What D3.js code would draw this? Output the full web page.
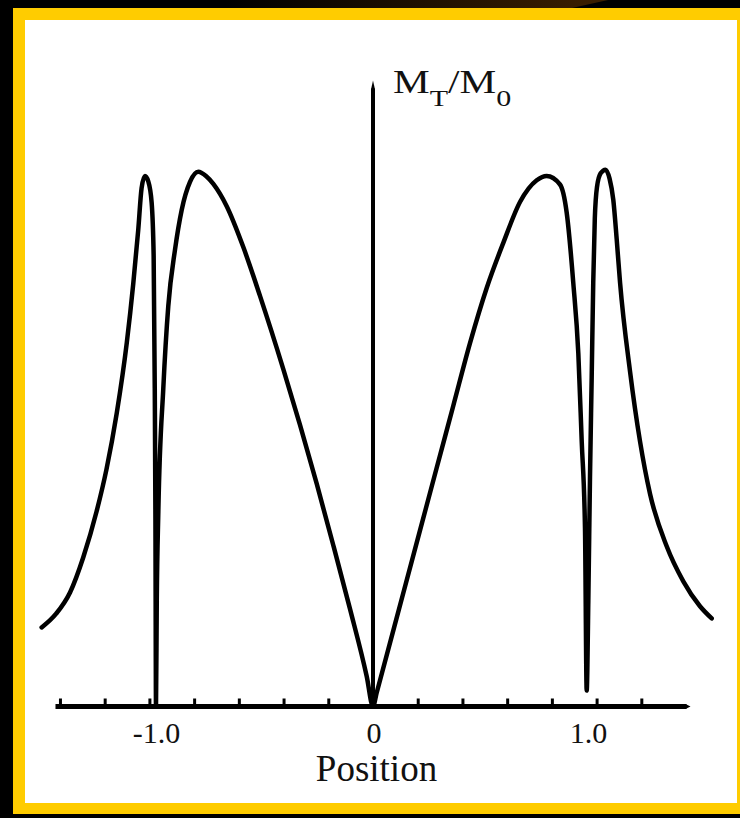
<!DOCTYPE html>
<html>
<head>
<meta charset="utf-8">
<script src="https://cdn.jsdelivr.net/npm/d3@7"></script>
<style>
  html, body { margin: 0; padding: 0; background: #000; }
  svg { display: block; }
  text { font-family: "Liberation Serif", "Times New Roman", serif; fill: #111; }
</style>
</head>
<body>
<svg id="chart" width="740" height="818"></svg>
<script>
// Transverse magnetisation profile |M_T/M_0| across the slice position
const position = [
  -1.482, -1.417, -1.355, -1.296, -1.236, -1.192, -1.146, -1.101, -1.072, -1.050,
  -1.035, -1.020, -1.005, -0.990, -0.981, -0.976, -0.973, -0.9705,
  -0.967, -0.960, -0.9378, -0.9155, -0.8855, -0.8556, -0.8184, -0.7813, -0.7469, -0.7142,
  -0.6543, -0.5801, -0.5054, -0.4012, -0.3265, -0.2518, -0.1776, -0.1029, -0.0282, 0,
  0.0165, 0.1355, 0.2102, 0.2849, 0.3591, 0.4338, 0.5085, 0.5828, 0.6574, 0.7321,
  0.7768, 0.8363, 0.8662, 0.8958, 0.9182, 0.9334, 0.9481, 0.9557,
  0.963, 0.9705, 0.978, 0.985, 0.992, 1.002, 1.018, 1.040, 1.058, 1.0747, 1.090,
  1.1047, 1.1494, 1.1941, 1.2388, 1.3135, 1.3878, 1.4624, 1.5148
];
const magnetization = [
  0.149, 0.175, 0.215, 0.281, 0.368, 0.447, 0.553, 0.686, 0.798, 0.898,
  0.977, 1.000, 0.990, 0.950, 0.850, 0.600, 0.350, 0.000,
  0.200, 0.368, 0.600, 0.755, 0.861, 0.936, 0.989, 1.008, 1.000, 0.985,
  0.943, 0.866, 0.774, 0.636, 0.531, 0.420, 0.304, 0.184, 0.057, 0.000,
  0.026, 0.214, 0.332, 0.450, 0.567, 0.685, 0.789, 0.874, 0.951, 0.992,
  1.000, 0.984, 0.931, 0.798, 0.666, 0.500, 0.336, 0.030,
  0.200, 0.434, 0.620, 0.800, 0.920, 0.980, 1.005, 1.012, 0.995, 0.955, 0.880,
  0.800, 0.632, 0.500, 0.401, 0.302, 0.236, 0.189, 0.166
];

// Axis definitions
const axisExtent = [-1.42, 1.42];   // horizontal axis line
const yAxisTop = 1.18;              // top of the vertical axis
const tickValues = [-1.4, -1.2, -1.0, -0.8, -0.6, -0.4, -0.2, 0.2, 0.4, 0.6, 0.8, 1.0, 1.2];
const tickLabels = [
  { value: -1.0, text: "-1.0", dx: 7 },
  { value: 0,    text: "0",    dx: 1 },
  { value: 1.0,  text: "1.0",  dx: -8 }
];
const xTitle = "Position";

const svg = d3.select("#chart");

// Frame: black page, faint glow at the top, yellow border, white panel
const defs = svg.append("defs");
const glow = defs.append("linearGradient").attr("id", "glow")
  .attr("x1", "0").attr("x2", "1").attr("y1", "0").attr("y2", "0");
glow.append("stop").attr("offset", "0").attr("stop-color", "#000");
glow.append("stop").attr("offset", "1").attr("stop-color", "#3d2000");
svg.append("rect").attr("width", 740).attr("height", 818).attr("fill", "#000");
svg.append("polygon").attr("points", "226,0 608,0 572,8 226,8").attr("fill", "url(#glow)");
svg.append("rect").attr("x", 13).attr("y", 8).attr("width", 727).attr("height", 806).attr("fill", "#ffcc00");
svg.append("rect").attr("x", 25).attr("y", 20).attr("width", 712).attr("height", 783).attr("fill", "#fff");

// Scales
const x = d3.scaleLinear().domain([-1.5, 1.5]).range([37.6, 708.4]);
const y = d3.scaleLinear().domain([0, 1]).range([706.5, 176]);

// Curve
const pts = position.map((p, i) => [p, magnetization[i]]);
const line = d3.line().x(d => x(d[0])).y(d => y(d[1])).curve(d3.curveMonotoneX);
svg.append("path").attr("d", line(pts))
  .attr("fill", "none").attr("stroke", "#000")
  .attr("stroke-width", 4.5).attr("stroke-linejoin", "round").attr("stroke-linecap", "round");

// Horizontal axis with small upward ticks
const y0 = y(0);
svg.append("line")
  .attr("x1", x(axisExtent[0])).attr("x2", x(axisExtent[1]) - 4)
  .attr("y1", y0).attr("y2", y0)
  .attr("stroke", "#000").attr("stroke-width", 5);
svg.append("polygon")
  .attr("points", `${x(axisExtent[1]) - 5},${y0 - 2.5} ${x(axisExtent[1])},${y0} ${x(axisExtent[1]) - 5},${y0 + 2.5}`)
  .attr("fill", "#000");

const axis = d3.axisTop(x).tickValues(tickValues).tickSize(6).tickFormat("");
const gAxis = svg.append("g").attr("transform", `translate(0,${y0 - 2})`).call(axis);
gAxis.select(".domain").remove();
gAxis.selectAll(".tick line").attr("stroke", "#000").attr("stroke-width", 3);

svg.selectAll("text.tick-label").data(tickLabels).enter().append("text")
  .attr("class", "tick-label")
  .attr("x", d => x(d.value) + d.dx).attr("y", 743)
  .attr("text-anchor", "middle").attr("font-size", 30)
  .text(d => d.text);

svg.append("text").attr("x", 376.5).attr("y", 781)
  .attr("text-anchor", "middle").attr("font-size", 37).text(xTitle);

// Vertical axis with pointed top
const xa = x(0);
svg.append("line")
  .attr("x1", xa).attr("x2", xa).attr("y1", y(yAxisTop) + 8).attr("y2", y0)
  .attr("stroke", "#000").attr("stroke-width", 4);
svg.append("polygon")
  .attr("points", `${xa - 2},${y(yAxisTop) + 9} ${xa},${y(yAxisTop)} ${xa + 2},${y(yAxisTop) + 9}`)
  .attr("fill", "#000");

// Axis title M_T/M_0 (wide serif face)
const title = svg.append("text")
  .attr("transform", "translate(393,93) scale(1.25,1)")
  .attr("font-size", 33);
title.append("tspan").text("M");
title.append("tspan").attr("font-size", 24).attr("dy", 13).text("T");
title.append("tspan").attr("dy", -13).text("/M");
title.append("tspan").attr("font-size", 24).attr("dy", 13).text("0");
</script>
</body>
</html>
